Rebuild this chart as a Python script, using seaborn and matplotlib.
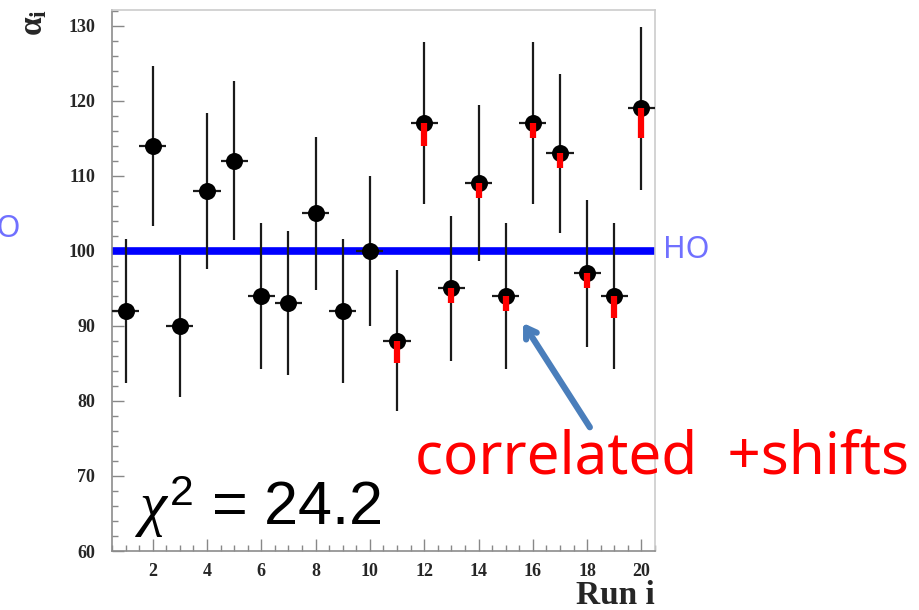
import numpy as np
import pandas as pd
import matplotlib
matplotlib.use("Agg")
import matplotlib.pyplot as plt
import seaborn as sns
from matplotlib.ticker import MultipleLocator

# ---- data ----
runs = list(range(1, 21))
alpha = [92, 114, 90, 108, 112, 94, 93, 105, 92, 100,
         88, 117, 95, 109, 94, 117, 113, 97, 94, 119]
alpha_err = [9.6, 10.7, 9.5, 10.4, 10.6, 9.7, 9.6, 10.2, 9.6, 10.0,
             9.4, 10.8, 9.7, 10.4, 9.7, 10.8, 10.6, 9.8, 9.7, 10.9]
shift_runs = [11, 12, 13, 14, 15, 16, 17, 18, 19, 20]
shift_to = [85, 114, 93, 107, 92, 115, 111, 95, 91, 115]
ho_value = 100
chi2_label = r"$\chi^{2}$ = 24.2"
note_label = "correlated  +shifts"
x_ticks = [2, 4, 6, 8, 10, 12, 14, 16, 18, 20]
y_ticks = [60, 70, 80, 90, 100, 110, 120, 130]

df = pd.DataFrame({"run": runs, "alpha": alpha, "err": alpha_err})
sdf = pd.DataFrame({"run": shift_runs, "to": shift_to})
sdf["from"] = [alpha[r - 1] for r in shift_runs]

sns.set_style("white")
plt.rcParams["mathtext.fontset"] = "custom"
plt.rcParams["mathtext.rm"] = "Liberation Sans"
plt.rcParams["mathtext.it"] = "Liberation Serif:italic"
plt.rcParams["mathtext.bf"] = "Liberation Serif:bold"

fig = plt.figure(figsize=(9.2, 6.1), dpi=100)
ax = fig.add_axes([112 / 920, 1 - 551 / 610, (655 - 112) / 920, (551 - 10) / 610])

ax.axhline(ho_value, color="#0000ff", lw=5.5, zorder=2)

ax.errorbar(df["run"], df["alpha"], yerr=df["err"], xerr=0.5, fmt="none",
            ecolor="#1a1a1a", elinewidth=1.6, capsize=0, zorder=3)

sns.scatterplot(data=df, x="run", y="alpha", ax=ax, color="black", s=150,
                edgecolor="black", linewidth=0, zorder=4, legend=False)

ax.vlines(sdf["run"], sdf["to"], sdf["from"], colors="#ff0000", lw=4.5, zorder=5)

ax.set_xlim(0.5, 20.5)
ax.set_ylim(60, 132.13)
ax.set_xticks(x_ticks)
ax.set_yticks(y_ticks)
ax.xaxis.set_minor_locator(MultipleLocator(0.5))
ax.yaxis.set_minor_locator(MultipleLocator(2))
ax.set_xlabel("")
ax.set_ylabel("")

for lab in ax.get_xticklabels() + ax.get_yticklabels():
    lab.set_fontfamily("Liberation Serif")
    lab.set_fontweight("bold")
    lab.set_fontsize(13)

ax.tick_params(axis="both", which="major", direction="in", length=8.5, width=1,
               color="#888888", bottom=True, left=True, top=False, right=False)
ax.tick_params(axis="both", which="minor", direction="in", length=4, width=1,
               color="#888888", bottom=True, left=True, top=False, right=False)
ax.tick_params(axis="x", which="major", pad=9)
ax.tick_params(axis="y", which="major", pad=12)

for side in ["left", "bottom"]:
    ax.spines[side].set_color("#8c8c8c")
    ax.spines[side].set_linewidth(1.2)
for side in ["top", "right"]:
    ax.spines[side].set_color("#cccccc")
    ax.spines[side].set_linewidth(1.2)

# axis titles
fig.text(33 / 920, 1 - 22 / 610, r"$\mathbf{\alpha}_{\mathbf{i}}$", rotation=90,
         ha="center", va="center", fontsize=24)
fig.text(655 / 920, 1 - 604 / 610, "Run i", ha="right", va="baseline",
         family="Liberation Serif", weight="bold", size=24)

# HO labels
fig.text(663 / 920, 1 - 250 / 610, "HO", ha="left", va="center",
         family="Noto Sans", size=22, color="#7070ff")
fig.text(21 / 920, 1 - 229 / 610, "HO", ha="right", va="center",
         family="Noto Sans", size=22, color="#7070ff")

# annotations
ax.annotate("", xy=(15.64, 90.4), xytext=(18.1, 76.5),
            arrowprops=dict(arrowstyle="->,head_length=0.7,head_width=0.45",
                            color="#4a7ebb", lw=4.5, shrinkA=0, shrinkB=0),
            zorder=6, annotation_clip=False)

fig.text(415 / 920, 1 - 473 / 610, note_label, ha="left", va="baseline",
         family="Noto Sans", size=42, color="#ff0000")
fig.text(135 / 920, 1 - 525 / 610, chi2_label, ha="left", va="baseline",
         family="Liberation Sans", size=44, color="black")

fig.savefig("out.png", dpi=100)
